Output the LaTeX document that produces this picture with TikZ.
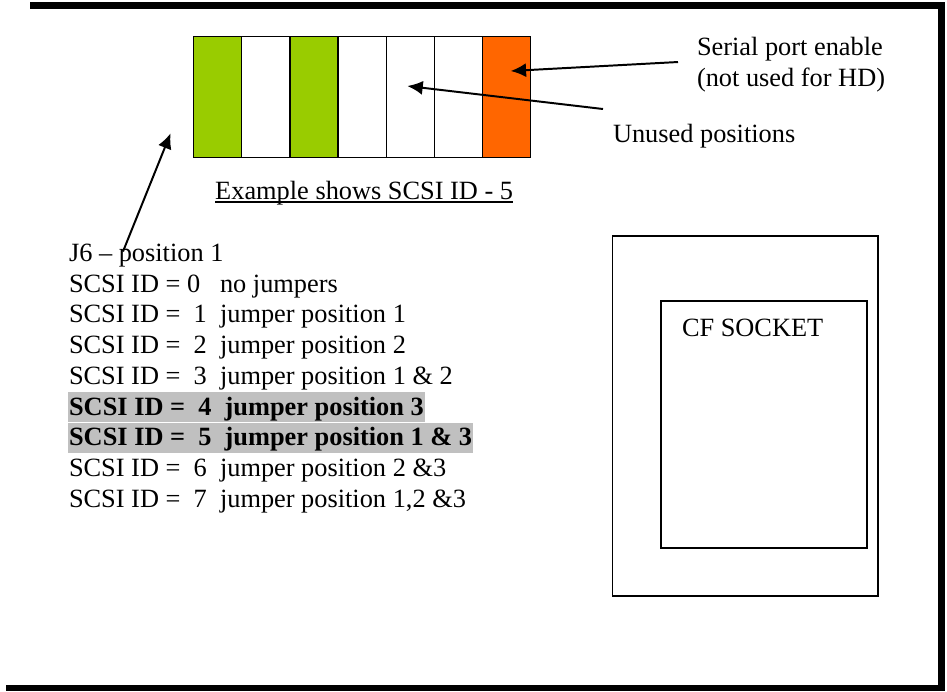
\documentclass[tikz,border=0pt]{standalone}
\usepackage{fontspec}
\setmainfont{Liberation Serif}
\usepackage{xcolor}
\usetikzlibrary{positioning}
\usetikzlibrary{calc,arrows.meta}

\definecolor{jgreen}{HTML}{99CC00}
\definecolor{jorange}{HTML}{FF6600}
\definecolor{hlgray}{HTML}{C0C0C0}

\begin{document}
\begin{tikzpicture}[x=0.016cm,y=-0.016cm,every node/.style={outer sep=0pt},
		cell/.style={draw,semithick,minimum width=0.771cm,minimum height=1.93cm,inner sep=0pt},
		txt/.style={font=\fontsize{12}{13.8}\selectfont,inner sep=0pt,anchor=base west},
		hl/.style={txt,fill=hlgray,font=\fontsize{12}{13.8}\selectfont\bfseries,text height=10.5pt,text depth=3.2pt,inner xsep=0.5pt},
		ptr/.style={line width=0.9pt,-{Latex[length=7pt,width=6.4pt]}},
		]
		\useasboundingbox (0,0) rectangle (947,691);
		\draw[line width=3pt] (30,5.5) -- (941.5,5.5) -- (941.5,688) -- (6,688);

		\begin{scope}
			\path (193.6,36.7) node[cell,fill=jgreen,anchor=north west] (c1){};
			\node[cell,right=0pt of c1] (c2){};
			\node[cell,fill=jgreen,right=0pt of c2] (c3){};
			\node[cell,right=0pt of c3] (c4){};
			\node[cell,right=0pt of c4] (c5){};
			\node[cell,right=0pt of c5] (c6){};
			\node[cell,fill=jorange,right=0pt of c6] (c7){};
			\path ($(c4.south)+(2,42)$) node[txt,anchor=base] (caption){Example shows SCSI ID - 5};
			\draw[line width=0.65pt] ($(caption.base west)+(0,2.5)$) -- ($(caption.base east)+(0,2.5)$);
		\end{scope}

		\path (697,55) node[txt] (serial){Serial port enable};
		\path (697,86) node[txt] (serialb){(not used for HD)};
		\path (613,142) node[txt] (unused){Unused positions};
		\draw[ptr] ($(serial.base west)+(-19,7)$) -- ($(c7.center)+(4,-26)$);
		\draw[ptr] ($(unused.base west)+(-10,-33)$) -- ($(c5.center)+(-3,-11)$);

		\begin{scope}
			\path (69,261.5) node[txt] (j6){J6 -- position 1};
			\path (69,292.2) node[txt] (id0){SCSI ID = 0\ \ \ no jumpers};
			\path (69,322.9) node[txt] (id1){SCSI ID =\ \ 1\ \ jumper position 1};
			\path (69,353.6) node[txt] (id2){SCSI ID =\ \ 2\ \ jumper position 2};
			\path (69,384.3) node[txt] (id3){SCSI ID =\ \ 3\ \ jumper position 1 \& 2};
			\path (68,415) node[hl] (id4){SCSI ID =\ \ 4\ \ jumper position 3};
			\path (68,445.7) node[hl] (id5){SCSI ID =\ \ 5\ \ jumper position 1 \& 3};
			\path (69,476.4) node[txt] (id6){SCSI ID =\ \ 6\ \ jumper position 2 \&3};
			\path (69,507.1) node[txt] (id7){SCSI ID =\ \ 7\ \ jumper position 1,2 \&3};
			\draw[ptr] ($(j6.base west)+(54,-10)$) -- ($(c1.south west)+(-23,-24)$);
		\end{scope}

		\begin{scope}
			\draw[semithick] (612.5,236) rectangle (878,596);
			\draw[semithick] (661,301) rectangle (867,548);
			\path (682,336) node[txt] (cf){CF SOCKET};
		\end{scope}
	\end{tikzpicture}
\end{document}
